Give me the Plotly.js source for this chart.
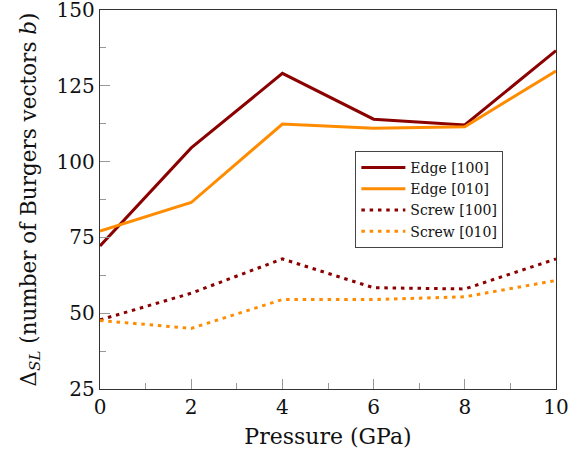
<!DOCTYPE html>
<html><head><meta charset="utf-8">
<script src="https://cdn.plot.ly/plotly-3.0.1.min.js"></script>
<style>body{margin:0}#c{width:570px;height:456px}</style>
</head><body><div id="c"></div>
<script>
const pressure = [0, 2, 4, 6, 8, 10];
const edge100 = [72.2, 104.5, 129.1, 114.0, 112.1, 136.6];
const edge010 = [77.1, 86.5, 112.4, 111.0, 111.5, 129.9];
const screw100 = [47.8, 56.6, 67.9, 58.4, 58.0, 67.9];
const screw010 = [47.6, 45.0, 54.5, 54.5, 55.4, 60.8];
const names = ['Edge [100]', 'Edge [010]', 'Screw [100]', 'Screw [010]'];
const yTicks = [25, 50, 75, 100, 125, 150];
const dred = '#8b0000', orange = '#ff8c00';
const DOT = '3.5px,4.8px';
const mk = (y, n, c, dash) => ({x: pressure, y: y, name: n, type: 'scatter', mode: 'lines',
  line: {color: c, width: 3, dash: dash}});
const data = [mk(edge100, names[0], dred, 'solid'), mk(edge010, names[1], orange, 'solid'),
  mk(screw100, names[2], dred, DOT), mk(screw010, names[3], orange, DOT)];
const F = '"DejaVu Serif", serif';
const axBase = {showgrid: false, zeroline: false, showline: true, linecolor: '#333', linewidth: 1.2,
  mirror: true, ticks: 'inside', ticklen: 10, tickcolor: '#999', tickwidth: 1,
  ticklabeloverflow: 'allow',
  tickfont: {family: F, size: 20, color: '#111'}};
const layout = {
  width: 570, height: 456, margin: {l: 100, r: 14, t: 10, b: 67},
  paper_bgcolor: '#fff', plot_bgcolor: '#fff', showlegend: true,
  font: {family: F, color: '#111', size: 18},
  xaxis: Object.assign({}, axBase, {range: [0, 10], dtick: 2, tick0: 0,
    minor: {dtick: 1, ticklen: 6, tickcolor: '#999', ticks: 'inside'},
    title: {text: 'Pressure (GPa)', font: {family: F, size: 22, color: '#111'}, standoff: 10}}),
  yaxis: Object.assign({}, axBase, {range: [25, 150.0001], tickmode: 'array', tickvals: yTicks,
    ticktext: yTicks.map(String),
    minor: {dtick: 12.5, tick0: 25, ticklen: 6, tickcolor: '#999', ticks: 'inside'},
    title: {text: 'Δ<sub><i>SL</i></sub> (number of Burgers vectors <i>b</i>)', font: {family: F, size: 21.5, color: '#111'}, standoff: 14}}),
  legend: {x: 0.56, y: 0.628, xanchor: 'left', yanchor: 'top', bgcolor: '#fff',
    bordercolor: '#444', borderwidth: 1, font: {family: F, size: 14, color: '#111'}, tracegroupgap: 0,
    itemwidth: 44}
};
Plotly.newPlot('c', data, layout, {displayModeBar: false, staticPlot: true});
</script></body></html>
